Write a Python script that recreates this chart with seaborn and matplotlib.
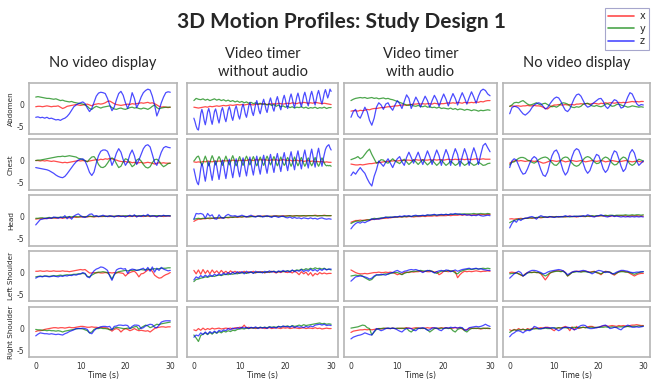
import numpy as np
import pandas as pd
import matplotlib
matplotlib.use("Agg")
import matplotlib.pyplot as plt
from matplotlib.lines import Line2D
import seaborn as sns

# Samples are evenly spaced over 0-30 s; each list's length sets its spacing.

# ---- No video display (first) ----
abd_nv1_x = [-0.4,-0.3,-0.3,-0.4,-0.3,-0.2,-0.3,-0.4,-0.3,-0.3,-0.2,
             -0.5,-0.8,-0.6,-0.3,-0.2,-0.1,0.0,0.1,0.0,-0.1,
             0.0,0.1,0.2,0.0,-0.2,0.1,0.2,0.3,0.2,0.3,
             0.5,0.8,0.9,0.6,0.3,0.1,0.0,-0.1,0.0,0.1,
             0.2,0.1,0.3,0.2,0.3,0.4,0.5,0.4,0.5,0.6,
             0.4,0.5,0.3,0.0,-0.3,-0.5,-0.4,-0.5,-0.6,-0.5]
abd_nv1_y = [1.8,1.9,1.8,1.7,1.6,1.5,1.5,1.4,1.3,1.4,1.2,
             1.0,1.1,0.9,0.8,0.7,0.8,0.6,0.5,0.4,0.3,
             0.2,0.0,-0.3,-0.8,-1.0,-0.6,-0.3,-0.5,-0.7,-0.5,
             -0.4,-0.3,-0.2,-0.6,-0.9,-1.0,-0.8,-0.7,-0.9,-1.0,
             -0.8,-0.6,-0.5,-0.7,-0.6,-0.8,-0.9,-0.7,-0.8,-1.0,
             -0.7,-0.3,0.0,-0.6,-0.9,-0.7,-0.6,-0.5,-0.5,-0.5]
abd_nv1_z = [-2.8,-2.7,-2.9,-2.8,-3.0,-2.8,-3.1,-3.0,-3.2,-3.4,-3.3,
             -3.5,-3.2,-3.0,-2.6,-2.0,-1.2,-0.4,0.0,0.3,0.5,
             0.7,0.3,-0.7,-1.5,-0.8,0.6,2.0,2.7,2.9,2.8,
             2.6,1.5,0.0,-1.3,-0.5,1.2,2.6,3.1,2.2,0.5,
             -0.8,0.5,2.8,1.5,-0.6,0.4,1.8,2.8,3.3,3.6,
             3.4,2.0,0.0,-2.5,-1.2,0.5,1.8,2.8,3.0,2.9]

chest_nv1_x = [0.1,0.1,0.0,0.1,0.0,0.1,0.0,-0.1,0.0,-0.1,-0.2,
               -0.3,-0.4,-0.3,-0.4,-0.3,-0.2,-0.1,0.0,0.1,0.0,
               0.1,0.0,-0.1,0.0,0.1,0.2,0.3,0.2,0.4,0.3,
               0.5,0.4,0.6,0.5,0.3,0.2,0.0,-0.1,-0.2,-0.1,
               -0.3,-0.2,-0.4,-0.3,-0.5,-0.4,-0.3,-0.5,-0.4,-0.3,
               -0.4,-0.5,-0.7,-0.5,-0.4,-0.5,-0.4,-0.5,-0.5,-0.5]
chest_nv1_y = [0.1,0.2,0.2,0.3,0.4,0.5,0.6,0.7,0.8,0.9,1.0,
               1.0,1.1,1.0,1.1,1.2,1.1,1.0,0.9,0.6,0.5,
               0.3,0.1,-0.2,0.4,0.9,1.0,0.3,-0.8,-1.4,-1.5,
               -1.2,-0.5,0.3,0.7,0.4,-0.6,-1.5,-1.2,-0.2,0.5,
               0.3,-0.5,-1.3,-0.9,0.2,0.5,0.0,-0.8,-1.4,-1.6,
               -1.3,-0.4,0.3,0.4,0.0,-0.8,-1.3,-1.0,-0.6,-0.5]
chest_nv1_z = [-1.5,-1.6,-1.7,-1.8,-1.9,-2.0,-2.2,-2.5,-2.8,-3.2,-3.5,
               -3.7,-3.8,-3.5,-2.9,-2.2,-1.5,-0.8,-0.2,0.2,0.4,
               0.5,0.0,-1.2,-2.6,-3.3,-2.5,-0.5,1.2,2.2,2.5,
               2.5,2.2,1.0,-1.0,0.2,1.8,2.8,2.0,0.3,-1.0,
               -0.2,1.5,2.5,1.2,-0.8,0.2,1.5,2.8,3.5,3.7,
               3.2,1.5,-0.3,-1.0,0.5,2.0,3.0,3.3,3.1,3.0]

head_nv1_x = [-0.5,-0.4,-0.4,-0.3,-0.4,-0.3,-0.3,-0.3,-0.2,-0.3,-0.2,
              -0.2,-0.3,-0.2,-0.1,-0.2,-0.1,0.0,-0.1,0.0,0.0,
              0.0,0.1,0.0,0.1,0.1,0.0,0.1,0.1,0.1,0.1,
              0.2,0.1,0.1,0.2,0.1,0.2,0.1,0.2,0.2,0.1,
              0.2,0.1,0.2,0.2,0.1,0.2,0.2,0.1,0.2,0.2,
              0.1,0.2,0.2,0.1,0.2,0.2,0.1,0.2,0.2,0.2]
head_nv1_y = [-0.3,-0.3,-0.2,-0.2,-0.3,-0.2,-0.1,-0.2,-0.2,-0.1,-0.1,
              -0.1,0.0,-0.1,0.0,0.1,0.0,0.1,0.1,0.0,0.1,
              0.1,0.0,0.1,0.2,0.1,0.1,0.2,0.1,0.2,0.2,
              0.1,0.2,0.2,0.1,0.2,0.2,0.3,0.2,0.2,0.3,
              0.2,0.3,0.2,0.3,0.3,0.2,0.3,0.3,0.2,0.3,
              0.3,0.2,0.3,0.3,0.3,0.2,0.3,0.3,0.3,0.3]
head_nv1_z = [-1.8,-1.2,-0.6,-0.5,-0.3,-0.4,-0.2,-0.3,0.0,-0.1,-0.3,
              0.0,-0.2,0.3,-0.4,0.1,-0.5,0.2,0.5,0.7,0.3,
              0.0,-0.1,0.2,0.6,0.7,0.2,0.3,0.1,0.2,0.4,
              0.2,0.1,0.3,0.2,0.0,0.2,0.3,0.1,0.2,0.0,
              0.2,0.4,0.1,0.5,0.0,0.3,0.1,0.4,0.2,0.6,
              0.1,0.3,0.2,0.0,0.3,0.2,0.4,0.2,0.3,0.2]

ls_nv1_x = [0.3,0.3,0.4,0.3,0.3,0.4,0.3,0.3,0.4,0.3,0.3,
            0.3,0.4,0.3,0.3,0.2,0.3,0.4,0.5,0.6,0.7,
            0.6,0.7,0.3,-0.1,-0.1,0.0,-0.1,0.0,-0.1,-0.1,
            0.0,-0.1,0.0,-0.1,0.0,-0.1,0.0,-0.1,-0.2,-0.8,
            -0.3,0.0,0.2,0.3,-0.2,-1.0,-0.3,-0.2,0.2,0.6,
            0.7,0.3,-0.6,-1.0,-1.3,-1.2,-0.8,-0.5,-0.3,0.0]
ls_nv1_y = [-1.0,-0.9,-0.8,-0.9,-0.8,-0.8,-0.9,-0.8,-0.7,-0.8,-0.7,
            -0.6,-0.7,-0.6,-0.5,-0.6,-0.5,-0.4,-0.4,-0.3,-0.3,
            -0.2,-0.3,-0.9,-1.0,-0.6,-0.3,0.0,0.1,0.1,0.2,
            0.1,0.0,-0.6,-1.5,-0.5,0.0,0.2,0.3,0.4,0.5,
            0.4,0.5,0.5,0.6,0.5,0.6,0.7,0.6,0.7,0.8,
            0.7,0.8,0.9,0.8,0.9,1.0,1.0,1.0,1.1,1.1]
ls_nv1_z = [-1.3,-1.0,-0.9,-1.0,-0.8,-0.9,-1.0,-0.9,-0.8,-0.9,-1.0,
            -0.8,-0.9,-0.7,-0.8,-0.6,-0.7,-0.5,-0.6,-0.4,-0.3,
            0.0,-0.2,-1.0,-1.2,-0.3,0.4,0.8,1.0,1.3,1.2,
            0.9,0.5,-0.8,-1.8,-0.5,0.6,0.9,1.0,0.8,0.9,
            -0.2,0.6,0.8,0.7,0.5,0.6,0.8,1.0,0.4,1.2,
            0.3,1.3,0.1,1.0,0.5,1.2,0.8,0.6,0.4,0.5]

rs_nv1_x = [-0.7,-0.5,-0.5,-0.4,-0.2,-0.1,0.0,0.1,0.2,0.2,0.1,
            0.2,0.2,0.1,0.2,0.3,0.2,0.2,0.3,0.4,0.5,
            0.5,0.4,0.3,0.3,0.4,0.3,0.3,0.2,0.3,0.2,
            0.2,0.1,-0.2,-0.6,-0.2,0.0,-0.2,-0.8,-0.3,0.0,
            -0.2,-0.5,-0.3,0.0,-0.3,-0.5,-0.4,-0.5,-0.6,-0.5,
            -0.8,-0.4,0.0,0.2,0.3,0.4,0.4,0.3,0.4,0.4]
rs_nv1_y = [-0.2,-0.3,-0.3,-0.4,-0.4,-0.5,-0.4,-0.5,-0.5,-0.6,-0.5,
            -0.6,-0.8,-0.6,-0.5,-0.4,-0.3,-0.2,-0.1,0.0,0.0,
            -0.1,-0.3,-0.5,-1.0,-0.8,-0.2,0.0,0.0,0.1,0.0,
            0.0,-0.1,-0.3,-0.2,0.1,0.3,0.2,0.1,0.0,0.0,
            0.1,0.0,0.2,0.4,0.5,-0.2,0.2,0.5,0.8,0.6,
            0.2,0.4,0.7,1.0,0.9,1.1,1.2,1.3,1.4,1.5]
rs_nv1_z = [-1.7,-1.3,-1.0,-1.1,-1.2,-1.2,-1.3,-1.2,-1.3,-1.4,-1.3,
            -1.4,-1.5,-1.2,-1.0,-0.7,-0.5,-0.3,0.0,0.0,0.0,
            0.1,0.0,-0.2,-1.0,-1.2,-0.5,0.0,0.2,0.4,0.5,
            0.5,0.4,0.5,-0.3,0.5,0.6,0.8,0.8,0.7,0.8,
            0.7,0.0,0.5,0.8,0.8,0.7,0.0,0.2,0.6,0.8,
            1.0,0.9,0.3,0.2,0.8,1.5,1.7,1.8,1.8,1.8]

# ---- Video timer without audio ----
abd_vt_x = [-0.5,-0.6,-0.7,-0.6,-0.5,-0.4,-0.5,-0.3,-0.4,-0.3,-0.2,
            -0.3,-0.2,-0.1,-0.2,-0.1,0.0,-0.1,0.0,0.1,0.0,
            0.1,0.0,0.1,0.2,0.1,0.0,0.2,0.1,0.2,0.3,
            0.2,0.1,0.3,0.2,0.3,0.2,0.4,0.3,0.2,0.3,
            0.4,0.3,0.5,0.4,0.3,0.5,0.4,0.6,0.5,0.4,
            0.5,0.4,0.6,0.5,0.4,0.3,0.4,0.3,0.2,0.1]
abd_vt_y = [1.0,1.5,1.3,1.2,1.4,1.1,1.3,1.0,1.2,1.4,1.1,
            1.3,1.0,1.2,0.9,1.1,0.8,1.0,0.7,0.9,0.6,
            0.8,0.5,0.7,0.4,0.6,0.3,0.5,0.2,0.4,0.1,
            0.3,0.0,0.2,-0.1,0.1,-0.3,0.0,-0.4,-0.2,-0.5,
            -0.3,-0.6,-0.4,-0.7,-0.5,-0.6,-0.4,-0.7,-0.5,-0.8,
            -0.6,-0.7,-0.5,-0.8,-0.6,-0.7,-0.5,-0.8,-0.6,-0.6]
abd_vt_z = [-3.0,-3.8,-4.8,-5.5,-5.7,
            -4.0,-2.0,-1.0,-2.0,-3.5,-4.5,
            -3.2,-1.6,-0.8,-1.8,-3.4,-4.4,
            -3.0,-1.5,-0.9,-1.9,-3.2,-4.1,
            -2.8,-1.3,-0.6,-1.6,-3.0,-3.8,
            -2.6,-1.1,-0.4,-1.3,-2.7,-3.5,
            -2.3,-0.9,-0.2,-1.2,-2.5,-3.2,
            -2.0,-0.6,0.2,-0.8,-2.1,-2.8,
            -1.6,-0.2,0.6,-0.4,-1.7,-2.4,
            -1.2,0.2,1.0,0.0,-1.3,-2.0,
            -0.8,0.5,1.3,0.3,-1.0,-1.7,
            -0.5,0.8,1.6,0.6,-0.7,-1.4,
            -0.2,1.1,1.9,0.9,-0.4,-1.1,
            0.1,1.4,2.2,1.2,-0.1,-0.8,
            0.4,1.7,2.5,1.5,0.2,-0.6,
            0.6,1.9,2.7,1.7,0.4,-0.4,
            0.8,2.1,2.9,1.9,0.6,-0.2,
            1.0,2.3,3.1,2.1,0.8,0.0,
            1.2,2.5,3.3,2.3,1.0,0.2,
            1.4,2.7,3.5,2.6,1.6,2.4,3.6,3.1]

chest_vt_x = [-0.2,-0.3,-0.2,-0.3,-0.1,-0.2,0.0,-0.1,-0.2,0.0,-0.1,
              0.0,-0.1,0.1,0.0,0.1,0.0,0.2,0.1,0.0,0.2,
              0.1,0.2,0.1,0.3,0.2,0.1,0.3,0.2,0.3,0.2,
              0.3,0.2,0.1,0.3,0.2,0.3,0.1,0.2,0.3,0.2,
              0.1,0.2,0.0,0.1,0.2,0.0,0.1,-0.1,0.0,0.1,
              -0.1,0.0,-0.2,-0.1,-0.2,-0.1,-0.3,-0.2,-0.3,-0.3]
chest_vt_y = [0.0,0.3,0.7,1.0,1.1,
              0.5,-0.4,-1.0,-0.5,0.4,1.1,
              0.4,-0.5,-1.1,-0.4,0.5,1.2,
              0.6,-0.3,-0.9,-0.3,0.5,1.0,
              0.5,-0.4,-1.0,-0.4,0.4,1.1,
              0.4,-0.3,-0.9,-0.3,0.6,1.2,
              0.5,-0.5,-1.1,-0.5,0.4,1.0,
              0.3,-0.4,-1.0,-0.4,0.5,1.1,
              0.5,-0.3,-0.9,-0.3,0.4,1.0,
              0.4,-0.5,-1.1,-0.5,0.3,0.9,
              0.3,-0.4,-1.0,-0.4,0.5,1.1,
              0.5,-0.3,-0.9,-0.3,0.4,1.0,
              0.4,-0.5,-1.1,-0.5,0.3,0.9,
              0.2,-0.5,-1.0,-0.6,0.3,0.8,
              0.3,-0.6,-1.2,-0.6,0.2,0.9,
              0.2,-0.5,-1.1,-0.5,0.3,0.8,
              0.1,-0.6,-1.2,-0.7,0.2,0.7,
              0.2,-0.6,-1.1,-0.6,0.1,0.8,
              0.1,-0.7,-1.2,-0.7,0.2,0.7,
              0.2,-0.5,-0.9,-1.1,-1.0,-1.1,-1.0,-1.2]
chest_vt_z = [-1.8,-3.0,-4.2,-5.0,-5.4,
              -3.8,-1.8,-0.5,-1.5,-3.2,-4.6,
              -3.0,-1.2,-0.2,-1.4,-3.0,-4.4,
              -2.8,-1.0,0.0,-1.2,-2.8,-4.2,
              -2.6,-0.8,0.2,-1.0,-2.6,-4.0,
              -2.4,-0.6,0.4,-0.9,-2.5,-3.8,
              -2.2,-0.5,0.5,-0.8,-2.4,-3.6,
              -2.0,-0.4,0.7,-0.6,-2.2,-3.4,
              -1.8,-0.2,0.9,-0.5,-2.0,-3.2,
              -1.6,0.0,1.1,-0.3,-1.8,-3.0,
              -1.4,0.2,1.3,-0.1,-1.6,-2.8,
              -1.2,0.4,1.5,0.1,-1.4,-2.6,
              -1.0,0.6,1.7,0.3,-1.2,-2.4,
              -0.8,0.8,1.9,0.5,-1.0,-2.2,
              -0.6,1.0,2.1,0.7,-0.8,-2.0,
              -0.4,1.2,2.3,0.9,-0.6,-1.8,
              -0.2,1.4,2.5,1.1,-0.4,-1.6,
              0.0,1.6,2.7,1.3,-0.2,-1.4,
              0.2,1.8,2.9,1.5,0.0,-1.2,
              0.3,1.5,2.6,3.2,3.5,3.7,3.0,2.5]

head_vt_x = [-1.0,-0.7,-0.5,-0.5,-0.4,-0.4,-0.3,-0.4,-0.3,-0.3,-0.2,
             -0.3,-0.2,-0.2,-0.1,-0.2,-0.1,-0.1,0.0,-0.1,0.0,
             0.0,0.1,0.0,0.1,0.1,0.2,0.1,0.2,0.1,0.2,
             0.2,0.2,0.1,0.2,0.2,0.3,0.2,0.2,0.3,0.2,
             0.3,0.3,0.2,0.3,0.3,0.3,0.2,0.3,0.3,0.3,
             0.3,0.3,0.4,0.3,0.3,0.3,0.4,0.3,0.3,0.3]
head_vt_y = [-0.5,-0.4,-0.3,-0.4,-0.3,-0.3,-0.3,-0.2,-0.3,-0.2,-0.2,
             -0.2,-0.1,-0.2,-0.1,-0.1,0.0,-0.1,0.0,0.0,0.1,
             0.0,0.1,0.1,0.0,0.1,0.1,0.1,0.2,0.1,0.1,
             0.2,0.1,0.2,0.1,0.2,0.2,0.2,0.2,0.1,0.2,
             0.2,0.3,0.2,0.2,0.3,0.2,0.3,0.3,0.2,0.3,
             0.3,0.3,0.3,0.2,0.3,0.3,0.3,0.3,0.3,0.3]
head_vt_z = [-0.5,0.8,0.7,0.8,0.6,-0.3,0.8,0.2,0.5,-0.4,-0.5,
             0.5,-0.2,-0.3,0.3,0.6,0.3,0.2,0.3,0.1,0.2,
             0.4,0.2,0.0,0.2,0.4,0.1,0.0,0.2,0.3,0.0,
             0.1,0.3,0.1,-0.1,0.2,0.1,-0.1,0.1,0.2,-0.1,
             -0.2,0.0,-0.3,-0.1,-0.3,-0.2,-0.4,-0.2,-0.3,-0.4,
             -0.2,-0.4,-0.3,-0.5,-0.3,-0.2,-0.4,-0.5,-0.4,-0.5]

ls_vt_x = [0.5,-0.3,0.6,-0.4,0.7,-0.2,0.5,-0.3,0.6,-0.1,0.4,
           -0.2,0.5,-0.1,0.3,-0.2,0.4,0.0,0.3,-0.1,0.2,
           0.0,0.3,-0.1,0.2,0.0,0.3,-0.1,0.2,0.1,0.2,
           -0.1,0.2,0.0,0.3,0.1,-0.1,0.2,0.0,0.3,0.1,
           0.0,0.2,-0.1,0.3,0.0,-0.5,0.2,-0.3,0.1,-0.6,
           0.0,-0.8,-0.2,-0.5,0.0,-0.3,-0.1,-0.3,-0.2,-0.2]
ls_vt_y = [-2.1,-1.6,-1.5,-1.3,-1.2,-1.0,-1.1,-0.9,-0.8,-0.9,-0.7,
           -0.6,-0.7,-0.5,-0.4,-0.5,-0.3,-0.4,-0.2,-0.3,-0.1,
           -0.1,0.0,-0.2,0.0,0.1,-0.1,0.0,0.1,0.0,0.1,
           0.0,0.2,0.1,0.2,0.3,0.1,0.2,0.3,0.2,0.3,
           0.4,0.3,0.5,0.4,0.6,0.5,0.8,0.6,0.9,0.7,
           1.0,0.8,1.1,0.9,1.0,0.8,1.0,0.7,0.8,0.6]
ls_vt_z = [-1.7,-1.0,-1.3,-0.7,-1.1,-0.6,-1.0,-0.5,-0.9,-0.4,-0.7,
           -0.3,-0.6,-0.1,-0.5,0.0,-0.4,0.1,-0.3,0.2,-0.2,
           0.2,-0.3,0.3,-0.1,0.2,-0.2,0.3,0.0,0.2,-0.1,
           0.3,0.0,0.4,0.1,0.3,0.0,0.4,0.1,0.5,0.2,
           0.4,0.1,0.6,0.2,0.5,0.3,0.7,0.2,0.6,0.3,
           0.8,0.4,0.7,0.3,0.8,0.5,0.9,0.6,0.8,0.8]

rs_vt_x = [-0.3,-0.5,0.0,-0.4,0.1,-0.3,0.0,-0.2,0.1,-0.1,0.0,
           0.1,-0.1,0.0,0.1,0.0,0.1,-0.1,0.2,0.1,0.3,
           0.2,0.8,0.1,0.3,0.1,0.2,0.0,0.2,0.1,0.2,
           0.0,0.1,0.2,0.0,0.1,0.2,0.1,0.0,0.2,0.1,
           0.2,0.0,0.1,0.2,0.1,0.0,0.1,0.2,0.0,0.1,
           0.1,0.0,0.2,0.0,0.1,-0.1,0.0,0.1,0.0,0.0]
rs_vt_y = [-1.5,-2.2,-3.0,-1.6,-1.3,-1.0,-1.4,-0.9,-1.3,-0.8,-1.1,
           -0.7,-1.0,-0.6,-0.8,-0.5,-0.7,-0.4,-0.5,-0.2,-0.1,
           0.0,-0.1,0.1,0.0,0.2,0.1,0.2,0.1,0.3,0.2,
           0.3,0.2,0.4,0.3,0.4,0.3,0.5,0.4,0.5,0.5,
           0.6,0.4,0.7,0.5,0.6,0.8,0.6,0.9,0.7,0.8,
           0.9,1.0,1.1,1.2,1.3,1.1,1.2,1.0,1.1,1.0]
rs_vt_z = [-2.0,-1.5,-1.7,-1.0,-1.4,-0.8,-1.3,-0.7,-1.1,-0.6,-1.0,
           -0.4,-0.7,-0.3,-0.5,0.0,-0.3,0.1,-0.1,0.2,0.0,
           0.3,0.1,0.3,0.0,0.3,0.1,0.4,0.0,0.3,0.1,
           0.3,0.0,0.4,0.2,0.3,0.1,0.5,0.3,0.6,0.4,
           0.5,0.3,0.6,0.2,0.5,0.3,0.4,0.2,0.5,0.3,
           0.6,0.4,0.8,0.9,1.0,0.8,1.0,0.7,0.8,0.7]

# ---- Video timer with audio ----
abd_vta_x = [-1.4,-1.3,-1.3,-1.4,-1.2,-1.3,-1.2,-1.0,-1.1,-0.9,-0.8,
             -0.8,-0.7,-0.6,-0.6,-0.5,-0.4,-0.4,-0.3,-0.2,-0.2,
             -0.1,0.0,0.0,-0.1,0.1,0.1,0.2,0.2,0.3,0.2,
             0.3,0.2,0.3,0.3,0.2,0.4,0.3,0.2,0.3,0.3,
             0.4,0.5,0.4,0.5,0.4,0.6,0.5,0.4,0.6,0.5,
             0.5,0.6,0.5,0.7,0.6,0.8,0.7,0.9,1.0,1.0]
abd_vta_y = [1.0,1.3,1.5,1.6,1.7,1.6,1.7,1.5,1.6,1.7,1.5,
             1.6,1.4,1.5,1.6,1.4,1.5,1.3,1.2,1.0,0.8,
             0.6,0.4,0.2,0.0,-0.1,0.1,-0.2,-0.3,-0.1,-0.3,
             -0.4,-0.2,-0.5,-0.4,-0.6,-0.5,-0.7,-0.5,-0.8,-0.7,
             -0.8,-0.9,-0.7,-1.0,-0.8,-1.1,-0.9,-1.0,-1.2,-1.0,
             -1.1,-1.3,-1.1,-1.2,-1.4,-1.2,-1.3,-1.2,-1.1,-1.2]
abd_vta_z = [-2.8,-1.5,-1.0,-2.5,-3.0,-1.8,-0.5,-1.5,-3.5,-4.6,-3.0,
             -0.5,0.5,0.0,-1.0,0.2,0.5,-0.5,-1.2,0.0,1.0,
             0.3,-0.8,0.8,2.3,1.5,-0.8,0.5,1.8,0.8,-0.5,
             0.8,2.0,1.0,-0.5,1.0,2.2,1.2,-0.3,1.2,2.5,
             1.3,-0.2,1.3,2.6,1.5,0.0,1.5,2.8,1.6,0.2,
             1.7,3.0,1.8,0.4,2.0,3.2,3.6,3.3,2.5,2.1]

chest_vta_x = [-0.7,-0.8,-0.9,-0.9,-0.8,-0.9,-0.8,-0.7,-0.6,-0.6,-0.5,
               -0.4,-0.4,-0.3,-0.2,-0.1,-0.1,0.0,0.0,0.1,0.0,
               0.1,0.2,0.1,0.2,0.2,0.1,0.2,0.3,0.2,0.2,
               0.3,0.2,0.2,0.3,0.2,0.3,0.2,0.3,0.3,0.2,
               0.3,0.4,0.3,0.3,0.4,0.3,0.4,0.4,0.3,0.4,
               0.4,0.3,0.4,0.5,0.4,0.4,0.5,0.4,0.4,0.4]
chest_vta_y = [0.3,0.5,0.7,1.0,0.5,0.8,1.5,2.2,2.7,1.5,0.5,
               -0.5,-0.2,0.3,0.2,-0.3,-0.5,0.0,0.5,0.0,-0.3,
               -0.6,0.0,0.4,-0.2,-0.8,-0.3,0.3,-0.2,-0.8,-0.2,
               0.3,-0.3,-0.9,-0.4,0.2,-0.4,-1.0,-0.5,0.2,-0.4,
               -1.0,-0.6,0.0,-0.5,-1.0,-0.7,0.0,-0.5,-1.0,-0.7,
               -0.2,-0.6,-1.0,-0.8,-0.3,-0.6,-1.0,-0.9,-0.6,-0.5]
chest_vta_z = [-3.3,-2.5,-3.0,-2.2,-1.5,-2.2,-2.8,-4.0,-5.0,-5.7,-3.5,
               -2.0,0.0,-0.6,-1.2,-0.3,0.5,-0.5,-1.5,-0.3,0.5,
               1.0,-0.2,-1.0,0.8,2.0,0.8,-0.5,0.8,2.0,0.5,
               -0.8,0.8,2.3,1.0,-0.8,1.0,2.5,1.2,-1.0,1.0,
               2.6,1.3,-1.0,1.2,2.8,1.5,-1.2,1.0,2.8,1.3,
               -1.0,1.3,3.0,1.5,-0.8,1.5,3.5,4.0,3.0,2.1]

head_vta_x = [-1.2,-1.0,-0.8,-0.8,-0.7,-0.8,-0.7,-0.6,-0.7,-0.6,-0.5,
              -0.5,-0.4,-0.4,-0.3,-0.3,-0.2,-0.2,-0.1,-0.1,0.0,
              0.0,0.0,0.1,0.0,0.1,0.1,0.0,0.1,0.1,0.1,
              0.2,0.1,0.2,0.2,0.2,0.3,0.2,0.3,0.3,0.3,
              0.3,0.4,0.3,0.4,0.4,0.4,0.5,0.4,0.5,0.5,
              0.5,0.4,0.5,0.5,0.6,0.5,0.6,0.5,0.6,0.6]
head_vta_y = [-1.5,-1.2,-1.0,-0.9,-1.0,-0.8,-0.8,-0.7,-0.6,-0.5,-0.3,
              -0.4,-0.3,-0.2,-0.2,-0.1,0.0,-0.1,0.0,0.0,0.0,
              0.1,0.0,0.1,0.1,0.2,0.1,0.2,0.2,0.3,0.3,
              0.3,0.3,0.4,0.4,0.4,0.5,0.4,0.5,0.5,0.5,
              0.6,0.5,0.6,0.6,0.6,0.7,0.6,0.7,0.7,0.7,
              0.7,0.7,0.8,0.7,0.7,0.8,0.7,0.7,0.8,0.7]
head_vta_z = [-2.7,-2.0,-1.5,-1.2,-1.4,-1.1,-1.3,-1.0,-0.8,-0.4,-0.6,
              -0.4,-0.5,-0.3,-0.2,0.0,-0.2,0.0,-0.1,0.1,0.0,
              0.2,0.1,0.3,0.2,0.3,0.1,0.3,0.4,0.2,0.3,
              0.4,0.3,0.5,0.4,0.5,0.6,0.4,0.5,0.6,0.5,
              0.6,0.5,0.7,0.6,0.8,0.6,0.7,0.5,0.6,0.4,
              0.5,0.3,0.4,0.3,0.5,0.3,0.2,0.3,0.4,0.3]

ls_vta_x = [0.6,0.3,0.0,-0.2,-0.3,-0.3,-0.2,-0.3,-0.2,-0.1,0.0,
            0.0,0.1,0.0,0.0,0.1,0.0,0.1,0.0,-0.2,-0.5,
            -0.3,-0.4,0.0,0.1,0.0,0.2,0.1,0.2,0.2,0.3,
            0.2,0.3,0.2,0.2,0.3,0.1,0.2,-0.5,-0.2,0.3,
            0.3,0.2,0.3,0.4,0.2,-1.2,-0.5,0.0,0.3,0.2,
            0.3,0.2,0.3,0.4,0.3,0.2,0.3,0.3,0.4,0.3]
ls_vta_y = [-0.8,-0.7,-0.6,-0.7,-0.6,-0.8,-1.2,-1.5,-1.8,-1.6,-1.0,
            -0.6,-0.5,-0.6,-0.4,-0.3,-0.4,-0.2,-0.1,0.0,0.0,
            -0.2,-0.5,-0.2,0.0,0.1,0.2,0.3,0.3,0.4,0.5,
            0.4,0.3,0.4,0.5,0.3,0.0,-0.2,0.1,0.3,0.4,
            0.3,0.5,0.4,0.3,-0.1,-0.3,0.2,0.4,0.6,0.7,
            0.8,0.7,0.8,0.9,0.8,0.9,1.0,0.9,1.0,0.9]
ls_vta_z = [-2.0,-1.5,-1.0,-0.9,-0.8,-0.9,-1.0,-1.2,-1.5,-1.3,-0.8,
            -0.5,-0.6,-0.4,-0.5,-0.6,-0.3,-0.1,0.0,0.3,0.5,
            0.2,0.0,0.3,0.4,0.6,0.7,0.6,0.7,0.5,0.3,
            0.0,0.3,0.5,0.4,0.2,-0.1,0.2,0.4,0.5,0.3,
            0.6,0.5,0.2,0.4,0.6,0.3,0.5,0.7,0.8,0.9,
            1.0,0.8,0.9,1.0,0.8,0.9,0.7,0.6,0.5,0.5]

rs_vta_x = [-0.9,-0.6,-0.5,-0.4,-0.3,-0.3,-0.2,-0.3,-0.2,-0.3,-0.2,
            -0.1,0.0,-0.1,0.0,0.1,0.0,0.0,0.1,0.0,0.0,
            0.1,0.0,0.1,0.2,0.1,0.0,0.1,0.2,0.1,0.1,
            0.0,0.1,0.2,0.1,0.2,0.1,0.0,0.1,0.2,0.1,
            0.2,0.1,0.0,0.1,0.2,0.1,0.2,-0.1,-0.4,-0.2,
            0.0,0.1,0.0,0.1,0.0,-0.1,0.0,0.1,0.0,0.0]
rs_vta_y = [0.1,0.2,0.3,0.4,0.6,0.8,0.7,0.2,0.0,-1.5,-0.8,
            -0.2,0.0,0.0,0.1,0.0,0.1,0.0,0.1,0.0,0.1,
            0.0,0.1,0.0,0.1,-0.5,-0.8,-0.3,0.0,0.1,0.0,
            0.1,0.0,-0.3,-0.8,-0.4,0.0,0.1,0.0,0.1,0.0,
            0.1,0.0,0.1,-0.5,-0.8,-0.2,0.0,0.1,-0.5,-0.8,
            -0.3,0.0,0.1,0.0,0.1,0.0,0.1,0.0,0.1,0.0]
rs_vta_z = [-2.4,-2.0,-1.8,-1.6,-1.5,-1.3,-1.0,-1.2,-1.4,-1.5,-0.7,
            0.0,-0.2,-0.5,-0.3,0.0,0.1,0.0,0.1,0.0,-0.3,
            -0.6,-0.8,-0.3,0.0,0.1,0.0,-0.4,-0.5,0.0,0.1,
            0.2,0.0,-0.4,-0.3,0.1,0.2,0.1,-0.3,-0.5,0.0,
            0.2,0.1,0.3,0.2,0.3,0.1,0.3,0.2,-0.3,-0.4,
            0.2,0.3,0.4,0.5,0.4,0.5,0.7,1.0,0.7,0.5]

# ---- No video display (second) ----
abd_nv2_x = [-0.3,-0.2,-0.3,-0.2,-0.2,-0.3,-0.2,-0.2,-0.1,-0.2,-0.2,
             -0.1,-0.2,-0.2,-0.3,-0.5,-0.8,-0.9,-0.5,-0.2,0.0,
             0.0,0.1,0.0,0.0,0.1,0.0,0.1,0.1,0.0,0.2,
             0.2,0.3,0.2,0.3,0.3,0.2,0.3,0.4,0.3,0.2,
             0.4,0.3,0.5,0.4,0.5,0.5,0.4,0.5,0.6,0.5,
             0.6,0.5,0.6,0.7,0.8,0.7,0.8,0.7,0.8,0.8]
abd_nv2_y = [-0.3,0.0,0.5,0.6,0.5,0.8,1.0,0.6,0.2,0.0,0.1,
             0.3,0.5,0.2,0.0,0.3,0.4,0.1,-0.2,-0.4,-0.3,
             -0.5,-0.2,0.3,0.5,0.4,0.2,-0.2,-0.5,-0.6,-0.4,
             -0.5,-0.3,0.2,0.3,0.4,0.1,-0.2,-0.3,-0.1,-0.3,
             -0.4,-0.2,0.2,0.3,0.0,-0.3,-0.2,0.1,0.2,0.0,
             -0.2,-0.3,-0.5,-0.4,-0.2,-0.3,-0.4,-0.5,-0.4,-0.5]
abd_nv2_z = [-2.0,-0.6,-0.3,-0.4,-0.7,-1.4,-2.0,-2.3,-1.9,-1.4,-0.6,
             0.0,0.3,0.5,0.3,-0.3,-0.9,-0.6,0.2,0.9,1.5,
             1.8,1.6,0.8,-0.3,-1.2,-1.5,-0.9,0.3,1.5,2.3,
             2.5,2.0,1.0,0.0,-0.5,-0.3,0.2,0.6,1.0,1.4,
             1.5,0.8,-0.3,-0.8,-0.2,0.6,1.2,1.0,0.2,-0.7,
             -0.5,0.5,1.8,2.8,2.5,1.4,0.3,-0.2,0.1,0.0]

chest_nv2_x = [-0.5,-0.2,0.0,0.1,0.0,0.1,0.0,-0.1,0.0,0.1,0.0,
               -0.1,0.0,-0.1,-0.3,-0.5,-0.4,-0.2,0.0,0.1,0.0,
               -0.1,0.0,0.1,0.0,-0.2,-0.1,0.0,0.1,0.0,-0.1,
               0.0,0.1,0.0,-0.2,-0.1,0.0,0.1,0.0,-0.1,0.0,
               0.1,0.0,-0.2,-0.1,0.0,0.1,0.0,-0.1,-0.2,-0.1,
               0.0,0.1,0.0,-0.1,-0.2,-0.1,0.0,-0.1,-0.2,-0.2]
chest_nv2_y = [-0.9,-0.3,-0.2,0.2,0.6,0.8,0.8,0.6,0.2,0.0,-0.3,
               -0.5,-0.2,0.3,0.6,0.8,0.9,0.7,0.2,-0.4,-0.9,
               -1.0,-0.5,0.2,0.7,0.9,0.8,0.2,-0.5,-1.0,-1.2,
               -1.0,-0.4,0.3,0.8,1.0,0.8,0.3,-0.2,-0.6,-0.5,
               0.0,0.6,0.9,0.7,0.2,-0.5,-0.9,-0.8,-0.2,0.5,
               0.9,0.7,0.0,-0.7,-1.0,-0.7,0.0,0.4,0.2,0.0]
chest_nv2_z = [-1.5,0.0,0.5,0.2,-1.0,-2.2,-3.0,-2.8,-1.8,-0.5,0.5,
               1.0,0.6,-0.5,-2.0,-3.2,-3.5,-2.5,-0.5,1.2,2.2,
               2.5,1.5,-0.5,-2.2,-3.2,-2.5,-0.8,1.0,2.3,2.8,
               2.5,1.2,-0.5,-2.0,-2.8,-2.2,-0.8,0.5,1.5,1.2,
               -0.2,-1.8,-2.6,-2.0,-0.5,1.2,2.3,2.0,0.5,-1.2,
               -2.4,-1.8,0.0,1.8,2.6,1.8,0.0,-1.0,-0.5,0.0]

head_nv2_x = [-0.45,-0.4,-0.5,-0.4,-0.4,-0.3,-0.4,-0.3,-0.3,-0.2,-0.3,
              -0.2,-0.2,-0.1,-0.2,-0.1,0.0,-0.1,0.0,0.1,0.0,
              0.1,0.0,0.1,0.1,0.0,0.1,0.2,0.1,0.1,0.0,
              0.1,0.2,0.1,0.1,0.2,0.1,0.2,0.1,0.2,0.2,
              0.3,0.2,0.3,0.2,0.1,0.3,0.2,0.3,0.2,0.3,
              0.2,0.3,0.1,0.2,0.3,0.2,0.3,0.2,0.2,0.2]
head_nv2_y = [-1.3,-1.0,-0.8,-0.6,-0.5,-0.5,-0.4,-0.3,-0.3,-0.2,-0.2,
              -0.2,-0.1,-0.1,0.0,-0.1,0.0,0.0,0.1,0.0,0.0,
              0.1,0.0,0.1,0.0,0.1,0.1,0.0,0.1,0.1,0.2,
              0.1,0.2,0.2,0.1,0.2,0.2,0.3,0.2,0.3,0.3,
              0.3,0.3,0.4,0.3,0.4,0.4,0.3,0.4,0.4,0.4,
              0.4,0.5,0.4,0.4,0.5,0.4,0.5,0.5,0.4,0.5]
head_nv2_z = [-2.5,-1.5,-0.8,-1.2,-0.5,-0.8,-0.4,-0.3,-0.2,0.0,0.1,
              -0.1,-0.5,0.0,0.3,0.1,0.0,-0.1,0.1,0.0,-0.1,
              0.0,0.1,0.0,0.1,0.3,0.1,0.2,0.1,0.2,0.1,
              0.2,0.1,0.3,0.2,0.5,0.3,0.1,0.0,0.2,0.3,
              0.5,0.3,0.1,0.0,0.2,0.3,0.1,0.2,0.1,0.0,
              0.1,0.0,0.1,0.0,0.1,0.0,0.1,0.0,0.1,0.0]

ls_nv2_x = [0.0,0.1,0.0,0.0,-0.3,-0.6,-0.8,-0.3,0.0,0.1,0.0,
            0.1,0.0,0.0,-0.3,-1.0,-1.7,-1.0,-0.2,0.1,0.3,
            0.4,0.4,0.3,0.4,0.0,-0.8,-0.4,0.1,0.2,0.3,
            0.3,0.2,0.3,0.3,0.2,0.1,0.2,0.3,0.0,-0.2,
            -0.5,0.0,0.3,0.2,0.1,-0.3,-0.6,-0.2,0.2,0.3,
            0.3,0.2,0.1,-0.2,-0.5,-0.8,-0.5,-0.3,-0.2,-0.2]
ls_nv2_y = [-0.3,-0.2,-0.2,-0.1,-0.3,-0.5,-0.8,-0.4,-0.1,0.0,0.0,
            0.1,0.0,0.0,-0.2,-0.5,-0.8,-0.5,-0.1,0.1,0.2,
            0.3,0.3,0.2,0.3,-0.1,-0.8,-0.4,0.0,0.1,0.2,
            0.2,0.1,0.2,0.2,0.1,0.0,0.1,0.2,0.0,-0.1,
            -0.3,0.0,0.2,0.1,0.1,-0.2,-0.4,-0.1,0.1,0.2,
            0.2,0.1,0.1,0.0,-0.2,-0.4,-0.2,0.0,0.1,0.2]
ls_nv2_z = [-1.3,-0.8,-0.3,0.0,0.3,0.0,-0.8,-0.5,0.0,0.3,0.5,
            0.5,0.4,0.2,0.0,-0.3,-0.2,0.1,0.3,0.4,0.5,
            0.6,0.7,0.6,0.4,0.0,-0.5,-0.2,0.1,0.3,0.3,
            0.2,0.4,0.5,0.4,0.2,0.0,-0.3,0.0,0.3,0.5,
            0.4,0.2,0.0,0.2,0.0,-0.3,-0.2,0.1,0.3,0.5,
            0.5,0.4,0.3,0.1,0.0,0.0,0.1,0.1,0.2,0.2]

rs_nv2_x = [-0.3,-0.5,-0.2,-0.4,0.0,-0.3,-0.1,-0.4,0.0,-0.2,0.0,
            0.1,0.0,0.1,0.2,0.1,0.3,0.3,0.2,-0.2,-0.5,
            0.0,0.2,0.1,0.3,0.5,0.2,-0.5,0.4,-0.3,0.5,
            0.0,0.2,0.3,0.2,0.4,0.5,0.5,0.3,0.2,0.3,
            0.5,0.6,0.7,0.5,0.6,0.7,0.6,0.5,0.7,0.6,
            0.7,0.6,0.5,0.7,0.8,0.8,0.9,0.8,0.7,0.7]
rs_nv2_y = [-0.9,-0.5,-0.3,-0.4,-0.3,-0.3,-0.2,-0.3,-0.2,-0.3,-0.1,
            -0.1,0.0,-0.1,0.0,0.0,0.1,0.0,0.0,0.1,0.2,
            0.1,0.2,0.1,0.2,0.2,0.1,0.2,0.2,0.3,0.2,
            0.2,0.2,0.3,0.2,0.2,0.3,0.3,0.2,0.3,0.3,
            0.3,0.3,0.4,0.3,0.3,0.4,0.3,0.3,0.4,0.4,
            0.4,0.4,0.5,0.4,0.5,0.5,0.5,0.6,0.5,0.6]
rs_nv2_z = [-1.9,-1.3,-1.0,-0.6,-0.5,-0.7,-1.0,-0.6,-0.4,-0.5,-0.2,
            0.5,0.3,0.0,-0.1,0.1,0.2,0.2,0.1,0.2,0.1,
            -0.2,-0.5,-0.2,0.2,0.3,0.3,0.2,0.0,-0.3,-0.1,
            0.4,0.7,0.8,0.7,0.2,0.0,0.0,0.1,0.2,0.3,
            0.5,0.7,0.8,0.5,0.0,0.1,0.3,0.2,-0.1,-0.3,
            0.2,0.5,0.8,0.6,0.3,0.3,0.4,0.3,0.4,0.5]

row_labels = ["Abdomen", "Chest", "Head", "Left Shoulder", "Right Shoulder"]
col_titles = ["No video display", "Video timer\nwithout audio",
              "Video timer\nwith audio", "No video display"]
axis_names = ["x", "y", "z"]

panels = [
    [(abd_nv1_x, abd_nv1_y, abd_nv1_z), (abd_vt_x, abd_vt_y, abd_vt_z),
     (abd_vta_x, abd_vta_y, abd_vta_z), (abd_nv2_x, abd_nv2_y, abd_nv2_z)],
    [(chest_nv1_x, chest_nv1_y, chest_nv1_z), (chest_vt_x, chest_vt_y, chest_vt_z),
     (chest_vta_x, chest_vta_y, chest_vta_z), (chest_nv2_x, chest_nv2_y, chest_nv2_z)],
    [(head_nv1_x, head_nv1_y, head_nv1_z), (head_vt_x, head_vt_y, head_vt_z),
     (head_vta_x, head_vta_y, head_vta_z), (head_nv2_x, head_nv2_y, head_nv2_z)],
    [(ls_nv1_x, ls_nv1_y, ls_nv1_z), (ls_vt_x, ls_vt_y, ls_vt_z),
     (ls_vta_x, ls_vta_y, ls_vta_z), (ls_nv2_x, ls_nv2_y, ls_nv2_z)],
    [(rs_nv1_x, rs_nv1_y, rs_nv1_z), (rs_vt_x, rs_vt_y, rs_vt_z),
     (rs_vta_x, rs_vta_y, rs_vta_z), (rs_nv2_x, rs_nv2_y, rs_nv2_z)],
]

frames = []
for r, row in enumerate(panels):
    for c, series in enumerate(row):
        for name, vals in zip(axis_names, series):
            frames.append(pd.DataFrame({"row": r, "col": c, "axis": name,
                                        "time": np.linspace(0, 30, len(vals)),
                                        "value": vals}))
df = pd.concat(frames, ignore_index=True)

sns.set_style("white")
plt.rcParams["font.family"] = ["DejaVu Sans"]
plt.rcParams["axes.unicode_minus"] = False
title_font = ["Lato", "DejaVu Sans"]
palette = {"x": "red", "y": "green", "z": "blue"}

W, H = 651, 379
fig = plt.figure(figsize=(W / 100, H / 100), dpi=100)

# panel boxes in pixels (left, right) and (top, bottom)
col_px = [(29, 177), (187, 338), (344, 497), (503, 650)]
row_px = [(83, 134), (139, 190), (195, 246), (251, 301), (307, 357)]

for r in range(5):
    for c in range(4):
        x0, x1 = col_px[c]
        y0, y1 = row_px[r]
        ax = fig.add_axes([x0 / W, 1 - y1 / H, (x1 - x0) / W, (y1 - y0) / H])
        sub = df[(df["row"] == r) & (df["col"] == c)]
        sns.lineplot(data=sub, x="time", y="value", hue="axis", hue_order=axis_names,
                     palette=palette, estimator=None, sort=False, linewidth=0.9,
                     alpha=0.7, legend=False, ax=ax)
        ax.set_xlim(-1.5, 31.5)
        ax.set_ylim(-6.6, 5.0)
        ax.set_xticks([0, 10, 20, 30])
        ax.set_yticks([-5, 0])
        ax.tick_params(length=2.2, width=0.6, color="#999999", labelsize=5.5,
                       labelcolor="#333333", pad=1.2,
                       labelbottom=(r == 4), labelleft=(c == 0))
        for s in ax.spines.values():
            s.set_color("#b5b5b5")
            s.set_linewidth(1.2)
        ax.set_xlabel("Time (s)" if r == 4 else "", fontsize=5.5, labelpad=0.5)
        ax.set_ylabel(row_labels[r] if c == 0 else "", fontsize=5.2, labelpad=2)

fig.text(341 / W, 1 - 22 / H, "3D Motion Profiles: Study Design 1", ha="center",
         va="center", fontsize=15, fontweight="bold", family=title_font)
for c, t in enumerate(col_titles):
    x0, x1 = col_px[c]
    fig.text((x0 + x1) / 2 / W, 1 - 63 / H, t, ha="center", va="center",
             fontsize=10.5, linespacing=1.3, family=title_font)

handles = [Line2D([], [], color=palette[n], alpha=0.7, linewidth=1.2) for n in axis_names]
leg = fig.legend(handles, axis_names, loc="upper right", bbox_to_anchor=(1.004, 1 - 3 / H),
                 fontsize=7, frameon=True, fancybox=False, handlelength=2.6,
                 handletextpad=0.6, borderpad=0.35, labelspacing=0.25)
leg.get_frame().set_edgecolor("#9090c0")
leg.get_frame().set_linewidth(0.8)

fig.savefig("out.png", dpi=100)
